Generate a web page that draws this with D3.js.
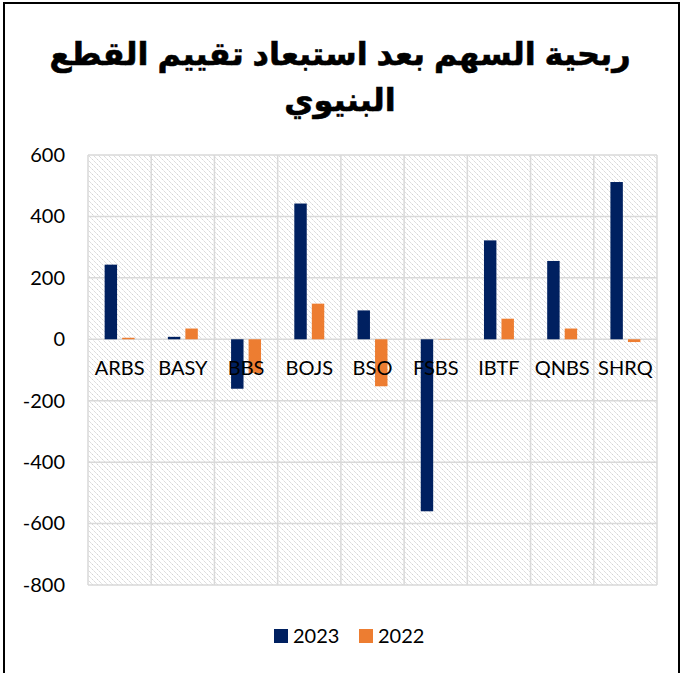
<!DOCTYPE html>
<html>
<head>
<meta charset="utf-8">
<script src="https://cdn.jsdelivr.net/npm/d3@7"></script>
<style>
  body { margin: 0; background: #fff; }
  svg { display: block; }
</style>
</head>
<body>
<svg id="chart" width="681" height="673"></svg>
<script>
const categories = ["ARBS", "BASY", "BBS", "BOJS", "BSO", "FSBS", "IBTF", "QNBS", "SHRQ"];
const series = ["2023", "2022"];
const values2023 = [243, 8, -161, 442, 94, -560, 322, 255, 512];
const values2022 = [5, 35, -110, 116, -153, -1, 67, 35, -9];
const yTicks = [-800, -600, -400, -200, 0, 200, 400, 600];
const titleLines = ["ربحية السهم بعد استبعاد تقييم القطع", "البنيوي"];

const colors = { "2023": "#002060", "2022": "#ed7d31" };
const labelFont = "Lato, 'Open Sans', sans-serif";

const svg = d3.select("#chart");
const margin = { left: 88, right: 24, top: 155, bottom: 88 };
const width = 681 - margin.left - margin.right;
const height = 673 - margin.top - margin.bottom;

// outer frame
svg.append("rect")
  .attr("x", 4).attr("y", 3)
  .attr("width", 675).attr("height", 680)
  .attr("fill", "none")
  .attr("stroke", "#000")
  .attr("stroke-width", 2);

// hatch for plot area
const defs = svg.append("defs");
const pat = defs.append("pattern")
  .attr("id", "hatch")
  .attr("patternUnits", "userSpaceOnUse")
  .attr("width", 5).attr("height", 5);
pat.append("path")
  .attr("d", "M-1,-1 L6,6 M-1,4 L1,6 M4,-1 L6,1")
  .attr("stroke", "#cfcfcf")
  .attr("stroke-width", 1)
  .attr("stroke-dasharray", "2,1.2");

// title
svg.append("g").selectAll("text")
  .data(titleLines)
  .enter()
  .append("text")
  .attr("x", 340)
  .attr("y", (d, i) => 65 + i * 46)
  .attr("text-anchor", "middle")
  .attr("font-family", "Arial, 'Liberation Sans', 'DejaVu Sans', sans-serif")
  .attr("font-weight", "bold")
  .attr("font-size", 32)
  .attr("stroke", "#000")
  .attr("stroke-width", 0.6)
  .attr("fill", "#000")
  .text(d => d);

const g = svg.append("g").attr("transform", `translate(${margin.left},${margin.top})`);

const x0 = d3.scaleBand().domain(categories).range([0, width]).padding(0);
const x1 = d3.scaleBand().domain(series).range([0, x0.bandwidth()])
  .paddingInner(0.29).paddingOuter(0.95);
const y = d3.scaleLinear().domain([-800, 600]).range([height, 0]);

g.append("rect")
  .attr("width", width).attr("height", height)
  .attr("fill", "url(#hatch)");

// gridlines
g.append("g").selectAll("line.h")
  .data(yTicks)
  .enter()
  .append("line")
  .attr("x1", 0).attr("x2", width)
  .attr("y1", d => y(d)).attr("y2", d => y(d))
  .attr("stroke", "#d9d9d9").attr("stroke-width", 1.5);

g.append("g").selectAll("line.v")
  .data(categories.concat(["end"]))
  .enter()
  .append("line")
  .attr("x1", (d, i) => i * x0.step()).attr("x2", (d, i) => i * x0.step())
  .attr("y1", 0).attr("y2", height)
  .attr("stroke", "#d9d9d9").attr("stroke-width", 1.5);

// bars
const rows = categories.map((c, i) => ({ cat: c, "2023": values2023[i], "2022": values2022[i] }));

g.append("g").selectAll("g")
  .data(rows)
  .enter()
  .append("g")
  .attr("transform", d => `translate(${x0(d.cat)},0)`)
  .selectAll("rect")
  .data(d => series.map(s => ({ key: s, value: d[s] })))
  .enter()
  .append("rect")
  .attr("x", d => x1(d.key))
  .attr("width", x1.bandwidth())
  .attr("y", d => y(Math.max(0, d.value)))
  .attr("height", d => Math.abs(y(d.value) - y(0)))
  .attr("fill", d => colors[d.key]);

// y axis labels
const yAxis = d3.axisLeft(y).tickValues(yTicks).tickSize(0).tickPadding(23)
  .tickFormat(d => String(d));
g.append("g")
  .call(yAxis)
  .call(a => a.select(".domain").remove())
  .selectAll("text")
  .attr("font-family", labelFont)
  .attr("font-size", 20)
  .attr("fill", "#000");

// category labels at zero line
const xAxis = d3.axisBottom(x0).tickSize(0).tickPadding(22);
g.append("g")
  .attr("transform", `translate(0,${y(0)})`)
  .call(xAxis)
  .call(a => a.select(".domain").remove())
  .selectAll("text")
  .attr("font-family", labelFont)
  .attr("font-size", 20)
  .attr("fill", "#000");

// legend
const legend = svg.append("g").attr("transform", "translate(274,636)");
const items = legend.selectAll("g")
  .data(series)
  .enter()
  .append("g")
  .attr("transform", (d, i) => `translate(${i * 85},0)`);
items.append("rect")
  .attr("x", 0).attr("y", -7)
  .attr("width", 14).attr("height", 14)
  .attr("fill", d => colors[d]);
items.append("text")
  .attr("x", 19).attr("y", 0)
  .attr("dy", "0.35em")
  .attr("font-family", labelFont)
  .attr("font-size", 20)
  .attr("fill", "#000")
  .text(d => d);
</script>
</body>
</html>
